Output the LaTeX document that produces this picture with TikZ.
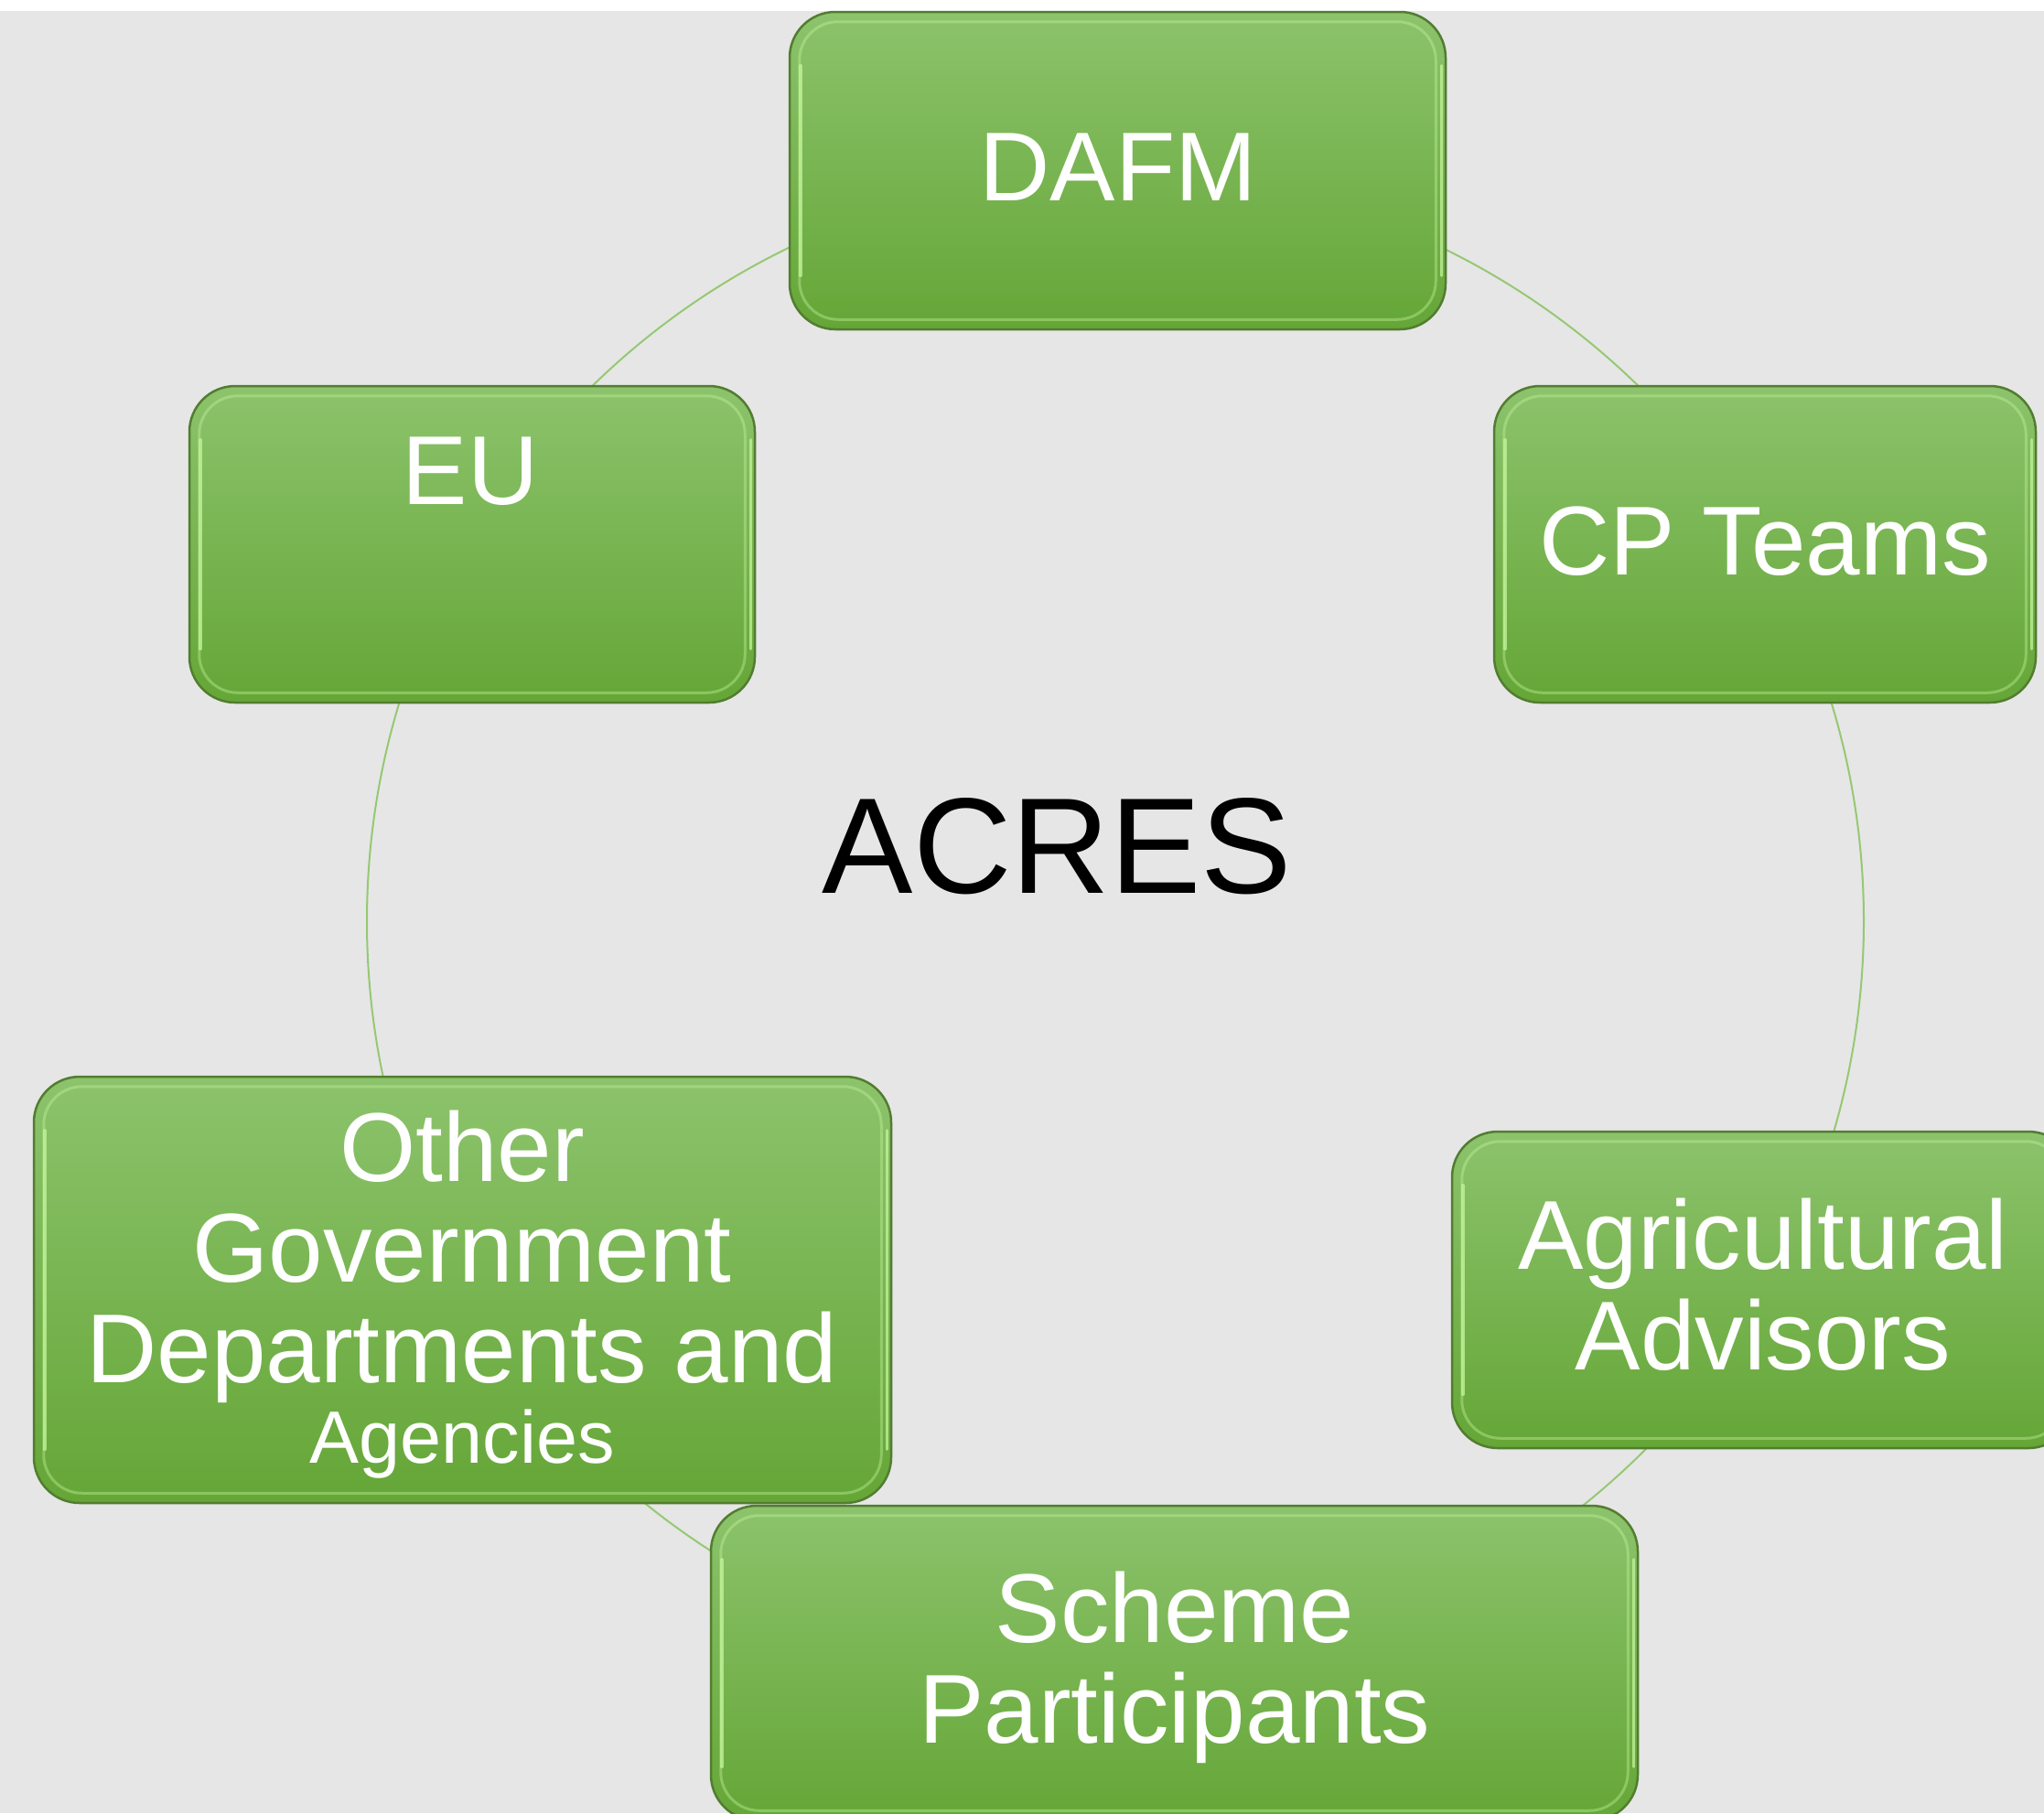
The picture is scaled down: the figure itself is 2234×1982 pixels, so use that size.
\documentclass[tikz,border=0pt]{standalone}
\usepackage{fontspec}
\setmainfont{Liberation Sans}
\definecolor{bg}{RGB}{230,230,230}
\definecolor{boxtop}{RGB}{140,195,108}
\definecolor{boxbot}{RGB}{101,166,55}
\definecolor{boxedge}{RGB}{82,125,48}
\definecolor{bevelc}{RGB}{195,245,155}
\definecolor{ringc}{RGB}{150,200,115}
\tikzset{
  greenbox/.style={rectangle, rounded corners=50pt, top color=boxtop, bottom color=boxbot,
    draw=boxedge, line width=2.5pt, inner sep=0pt},
  bevelline/.style={draw=bevelc, line width=3pt, rounded corners=42pt, opacity=0.4},
  bevelside/.style={draw=bevelc, line width=3.5pt, opacity=0.75, line cap=round},
  boxtext/.style={text=white, font=\fontsize{107pt}{110pt}\selectfont, align=center, inner sep=0pt},
  ringline/.style={circle, draw=ringc, line width=2pt, inner sep=0pt},
}
\newcommand\gbox[5]{%
  \node[greenbox, minimum width=#4pt, minimum height=#5pt] (#1) at (#2,#3) {};
  \draw[bevelline] ([shift={(12pt,-12pt)}]#1.north west) rectangle ([shift={(-12pt,12pt)}]#1.south east);
  \draw[bevelside] ([shift={(13pt,-60pt)}]#1.north west) -- ([shift={(13pt,60pt)}]#1.south west);
  \draw[bevelside] ([shift={(-6pt,-60pt)}]#1.north east) -- ([shift={(-6pt,60pt)}]#1.south east);
}
\begin{document}
\begin{tikzpicture}[x=1pt,y=-1pt]
  \useasboundingbox (0,0) rectangle (2234,1982);
  \clip (0,0) rectangle (2234,1982);
  \fill[white] (0,0) rectangle (2234,13);
  \fill[bg] (0,12) rectangle (2234,1982);

  % ring connecting the boxes
  \node[ringline, minimum size=1636pt] (ring) at (1219,1007) {};

  % boxes
  \gbox{dafm}{1221.5}{186.5}{717}{347}
  \gbox{cp}{1929}{595}{592}{346}
  \gbox{agri}{1927}{1410}{680}{346}
  \gbox{scheme}{1283.5}{1818}{1013}{344}
  \gbox{other}{505.5}{1410}{937}{466}
  \gbox{eu}{516}{595}{618}{346}

  % texts
  \node[boxtext, anchor=base] (tdafm) at (1222,219) {DAFM};
  \node[boxtext, anchor=base] (tcp) at (1929,628) {CP Teams};
  \node[boxtext, anchor=base] (teu) at (514,551) {EU};
  \node[boxtext] (tagri) at (1927,1404) {Agricultural\\Advisors};
  \node[boxtext] (tscheme) at (1284,1823) {Scheme\\Participants};
  \node[boxtext] (tother) at (505,1415) {Other\\Government\\Departments and\\[-22pt]{\fontsize{81pt}{88pt}\selectfont Agencies}};

  \node[text=black, font=\fontsize{149pt}{160pt}\selectfont, anchor=base, inner sep=0pt] (acres) at (1155.5,976) {ACRES};
\end{tikzpicture}
\end{document}
